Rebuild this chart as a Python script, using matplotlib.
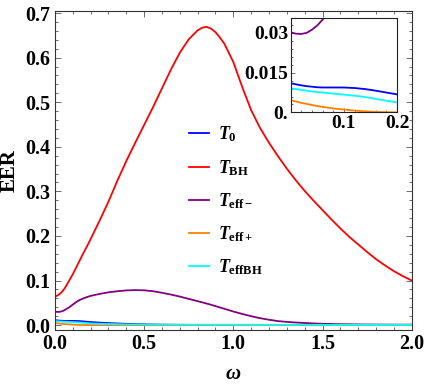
import matplotlib
matplotlib.use("Agg")
import matplotlib.pyplot as plt
from matplotlib.ticker import MultipleLocator, FixedLocator

plt.rcParams["font.family"] = "Liberation Serif"
plt.rcParams["font.weight"] = "bold"
plt.rcParams["axes.labelweight"] = "bold"
plt.rcParams["mathtext.fontset"] = "custom"
plt.rcParams["mathtext.rm"] = "Liberation Serif:bold"
plt.rcParams["mathtext.it"] = "Liberation Serif:bold:italic"
plt.rcParams["mathtext.bf"] = "Liberation Serif:bold"

# frequency grid (omega), denser near 0 for the inset
omega = [0, 0.01, 0.02, 0.03, 0.04, 0.05, 0.06, 0.07, 0.08, 0.1, 0.12, 0.14, 0.16, 0.18, 0.2,
         0.25, 0.3, 0.35, 0.4, 0.45, 0.5, 0.55, 0.6, 0.65, 0.7, 0.75, 0.8,
         0.825, 0.85, 0.875, 0.9, 0.925, 0.95,
         1.0, 1.05, 1.1, 1.15, 1.2, 1.25, 1.3, 1.35, 1.4, 1.45, 1.5, 1.55, 1.6,
         1.65, 1.7, 1.75, 1.8, 1.85, 1.9, 1.95, 2.0]

eer_t0 = [0.0110, 0.0106, 0.0102, 0.0099, 0.0097, 0.0095, 0.0094, 0.0094, 0.0094,
          0.0094, 0.0092, 0.0088, 0.0082, 0.0075, 0.0068,
          0.0055, 0.0045, 0.0036, 0.0028, 0.0022, 0.0017, 0.0013, 0.0010, 0.0008,
          0.0006, 0.0005, 0.0004,
          0.0004, 0.0003, 0.0003, 0.0003, 0.0002, 0.0002,
          0.0002, 0.0001, 0.0001] + [0.0] * 18
eer_tbh = [0.064, 0.0655, 0.068, 0.071, 0.075, 0.080, 0.086, 0.093, 0.100, 0.114,
           0.130, 0.146, 0.162, 0.177, 0.193,
           0.234, 0.277, 0.324, 0.368, 0.409, 0.449, 0.489, 0.531, 0.573, 0.611,
           0.641, 0.661,
           0.667, 0.669, 0.665, 0.657, 0.645, 0.631,
           0.590, 0.534, 0.482, 0.442, 0.409, 0.379, 0.351, 0.325, 0.301, 0.279,
           0.258, 0.237, 0.217, 0.198, 0.181, 0.164, 0.148, 0.134, 0.121, 0.110, 0.100]
eer_teff_minus = [0.0302, 0.0297, 0.0296, 0.0300, 0.0312, 0.0328, 0.0350, 0.0375,
                  0.0400, 0.0460, 0.0520, 0.0565, 0.0600, 0.0630, 0.0655,
                  0.0700, 0.0735, 0.0760, 0.0778, 0.0785, 0.0780, 0.0760, 0.0725,
                  0.0685, 0.0640, 0.0588, 0.0537,
                  0.0511, 0.0484, 0.0456, 0.0426, 0.0396, 0.0366,
                  0.0305, 0.0250, 0.0200, 0.0155, 0.0120, 0.0090, 0.0072, 0.0058,
                  0.0047, 0.0038, 0.0030, 0.0025, 0.0020, 0.0018, 0.0015, 0.0013,
                  0.0012, 0.0011, 0.0010, 0.0010, 0.0010]
eer_teff_plus = [0.0046, 0.0041, 0.0036, 0.0032, 0.0028, 0.0024, 0.0021, 0.0018,
                 0.0015, 0.0011, 0.0007, 0.0004, 0.0002, 0.0001, 0.0] + [0.0] * 39
eer_teff_bh = [0.0091, 0.0088, 0.0085, 0.0082, 0.0079, 0.0077, 0.0075, 0.0073,
               0.0071, 0.0067, 0.0063, 0.0058, 0.0051, 0.0044, 0.0038,
               0.0030, 0.0024, 0.0020, 0.0016, 0.0014, 0.0012, 0.0011, 0.0010,
               0.0010, 0.0009, 0.0009, 0.0008,
               0.0008, 0.0008, 0.0008, 0.0008, 0.0008, 0.0008,
               0.0008, 0.0008, 0.0007, 0.0007, 0.0007, 0.0007, 0.0006, 0.0006,
               0.0006, 0.0006, 0.0006] + [0.0005] * 10

series = [
    (eer_t0, "#0000ff", r"$T_{\mathrm{0}}$"),
    (eer_tbh, "#ff0000", r"$T_{\mathrm{BH}}$"),
    (eer_teff_minus, "#800080", r"$T_{\mathrm{eff}-}$"),
    (eer_teff_plus, "#ff8000", r"$T_{\mathrm{eff}+}$"),
    (eer_teff_bh, "#00ffff", r"$T_{\mathrm{effBH}}$"),
]
for y, _, _ in series:
    assert len(y) == len(omega)

inset_xticks = [0.1, 0.2]
inset_yticks = [0.0, 0.015, 0.03]
inset_ylabels = ["0.", "0.015", "0.03"]

fig = plt.figure(figsize=(4.26, 3.85), dpi=100)
ax = fig.add_axes([0.129, 0.144, 0.8374, 0.828])

for y, c, lab in series:
    ax.plot(omega, y, color=c, lw=1.3, label=lab)

ax.set_xlim(0, 2.0)
ax.set_ylim(-0.01, 0.705)
ax.xaxis.set_major_locator(MultipleLocator(0.5))
ax.xaxis.set_minor_locator(MultipleLocator(0.1))
ax.yaxis.set_major_locator(MultipleLocator(0.1))
ax.yaxis.set_minor_locator(MultipleLocator(0.02))
ax.xaxis.set_major_formatter(plt.FuncFormatter(lambda v, p: f"{v:.1f}"))
ax.yaxis.set_major_formatter(plt.FuncFormatter(lambda v, p: f"{v:.1f}"))
ax.tick_params(which="both", direction="in", top=True, right=True,
               labelsize=14.5, width=0.6, color="#555555")
ax.tick_params(which="major", length=4)
ax.tick_params(which="minor", length=2)
for s in ax.spines.values():
    s.set_color("#333333")
    s.set_linewidth(0.8)
ax.set_xlabel(r"$\omega$", fontsize=15, labelpad=7)
ax.set_ylabel("EER", fontsize=15, fontweight="bold", labelpad=4)

ax.legend(loc="upper left", bbox_to_anchor=(0.355, 0.665), frameon=False,
          fontsize=13, handlelength=1.1, handletextpad=0.5, labelspacing=0.75,
          borderaxespad=0)

# inset zoom near omega = 0
ins = fig.add_axes([0.6824, 0.708, 0.2496, 0.2465])
for y, c, lab in series:
    ins.plot(omega, y, color=c, lw=1.3)
ins.set_xlim(0, 0.2)
ins.set_ylim(0, 0.0358)
ins.xaxis.set_major_locator(FixedLocator(inset_xticks))
ins.xaxis.set_minor_locator(MultipleLocator(0.02))
ins.set_xticklabels([f"{v:.1f}" for v in inset_xticks], fontweight="bold")
ins.yaxis.set_major_locator(FixedLocator(inset_yticks))
ins.yaxis.set_minor_locator(MultipleLocator(0.003))
ins.set_yticklabels(inset_ylabels, fontweight="bold")
ins.tick_params(which="both", direction="in", labelsize=14, width=0.6,
                color="#555555", pad=2)
ins.tick_params(which="major", length=3)
ins.tick_params(which="minor", length=1.5)
for s in ins.spines.values():
    s.set_color("#222222")
    s.set_linewidth(0.8)

fig.savefig("out.png", dpi=100)
